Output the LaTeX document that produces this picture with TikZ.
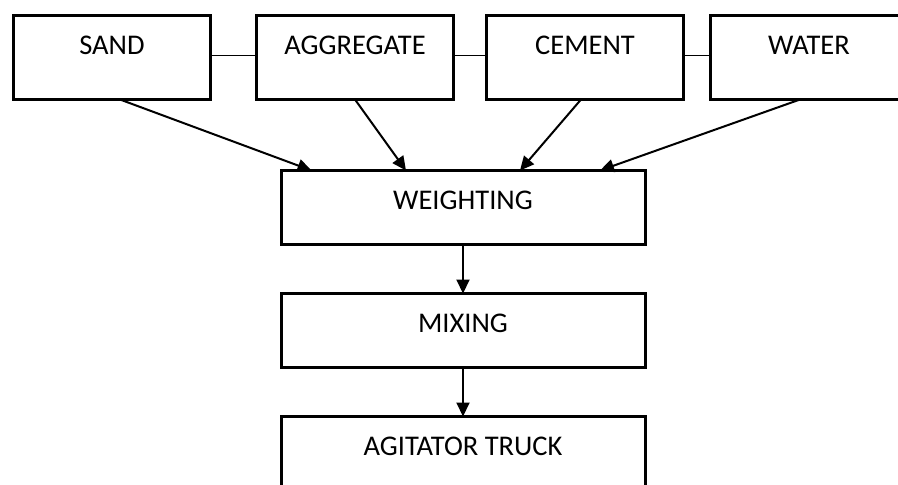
\documentclass[tikz,border=0pt]{standalone}
\usepackage{fontspec}
\setmainfont{Carlito}
\usetikzlibrary{arrows.meta}

\begin{document}
\begin{tikzpicture}[x=1pt,y=-1pt,
    srcbox/.style={draw,line width=3pt,inner xsep=0pt,inner ysep=0pt,outer sep=0pt,
      minimum width=197pt,text height=38.5pt,text depth=45.5pt,anchor=north,
      font=\fontsize{28.5}{34}\selectfont},
    procbox/.style={srcbox,minimum width=364pt,text depth=35pt},
    feed/.style={line width=2pt,-{Triangle[length=14pt,width=13pt]}}]
      \useasboundingbox (0,0) rectangle (898,485);
      \clip (0,0) rectangle (898,485);
      % raw materials
      \node[srcbox] (sand) at (112,15.5) {SAND};
      \node[srcbox] (aggregate) at (355,15.5) {AGGREGATE};
      \node[srcbox] (cement) at (585,15.5) {CEMENT};
      \node[srcbox] (water) at (809,15.5) {WATER};
      \draw[line width=1pt] (sand.east |- 0,55) -- (aggregate.west |- 0,55);
      \draw[line width=1pt] (aggregate.east |- 0,55) -- (cement.west |- 0,55);
      \draw[line width=1pt] (cement.east |- 0,55) -- (water.west |- 0,55);
      % process
      \node[procbox] (weighting) at (463,170.5) {WEIGHTING};
      \node[procbox] (mixing) at (463,293.5) {MIXING};
      \node[procbox] (truck) at (463,416.5) {AGITATOR TRUCK};
      \draw[feed] ([xshift=8pt]sand.south) -- ([xshift=30.5pt]weighting.north west);
      \draw[feed] (aggregate.south) -- ([xshift=125pt]weighting.north west);
      \draw[feed] ([xshift=-4pt]cement.south) -- ([xshift=57pt]weighting.north);
      \draw[feed] ([xshift=-9pt]water.south) -- ([xshift=137pt]weighting.north);
      \draw[feed] (weighting) -- (mixing);
      \draw[feed] (mixing) -- (truck);
    \end{tikzpicture}
\end{document}
